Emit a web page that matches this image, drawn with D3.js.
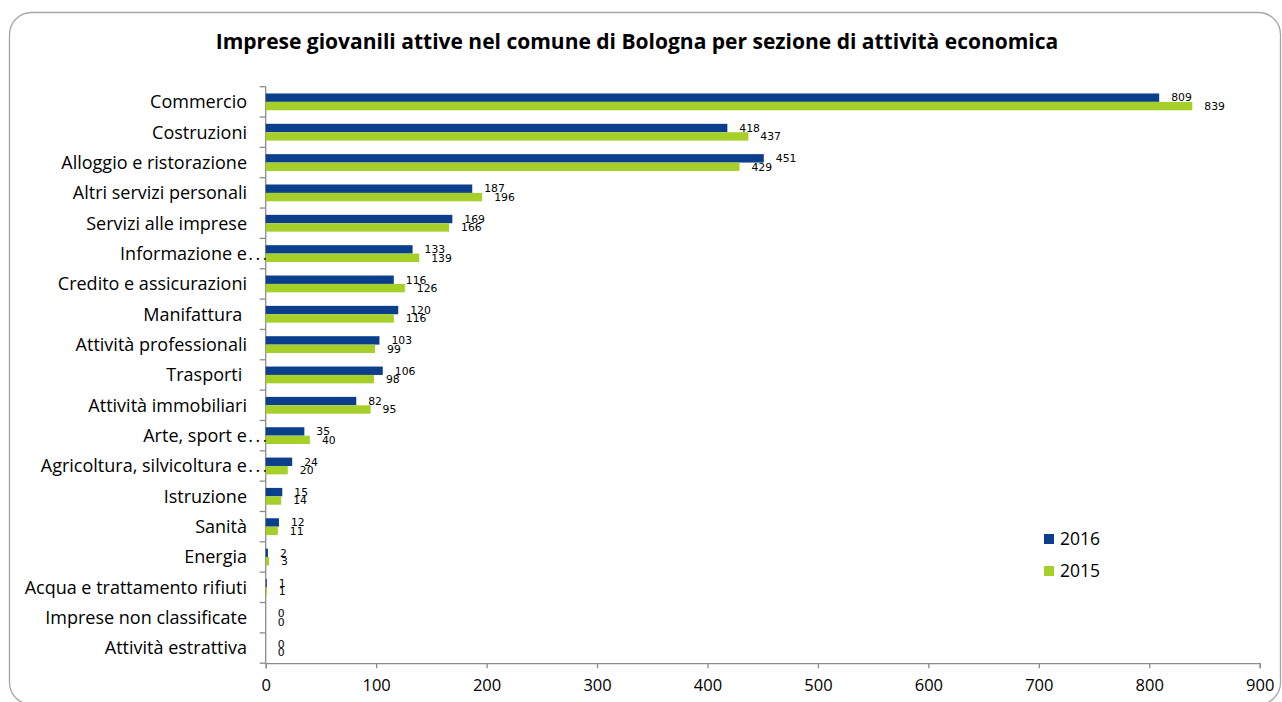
<!DOCTYPE html>
<html>
<head>
<meta charset="utf-8">
<script src="https://cdn.jsdelivr.net/npm/d3@7/dist/d3.min.js"></script>
<style>
  html, body { margin: 0; padding: 0; background: #fff; }
  svg text { white-space: pre; }
</style>
</head>
<body>
<svg id="chart" width="1282" height="702"></svg>
<script>
// Sezioni di attività economica (ordine come nel grafico, dall'alto)
const categories = [
  "Commercio",
  "Costruzioni",
  "Alloggio e ristorazione",
  "Altri servizi personali",
  "Servizi alle imprese",
  "Informazione e…",
  "Credito e assicurazioni",
  "Manifattura ",
  "Attività professionali",
  "Trasporti ",
  "Attività immobiliari",
  "Arte, sport e…",
  "Agricoltura, silvicoltura e…",
  "Istruzione",
  "Sanità",
  "Energia",
  "Acqua e trattamento rifiuti",
  "Imprese non classificate",
  "Attività estrattiva"
];
const values2016 = [809, 418, 451, 187, 169, 133, 116, 120, 103, 106, 82, 35, 24, 15, 12, 2, 1, 0, 0];
const values2015 = [839, 437, 429, 196, 166, 139, 126, 116, 99, 98, 95, 40, 20, 14, 11, 3, 1, 0, 0];
const seriesNames = ["2016", "2015"];
const xTicks = [0, 100, 200, 300, 400, 500, 600, 700, 800, 900];

const colors = { "2016": "#0b3f8c", "2015": "#a6cf2a" };
const title = "Imprese giovanili attive nel comune di Bologna per sezione di attività economica";
const font = "'Open Sans', sans-serif";

const svg = d3.select("#chart");

// cornice arrotondata
svg.append("rect")
  .attr("x", 9.5).attr("y", 12.5)
  .attr("width", 1271).attr("height", 692)
  .attr("rx", 22).attr("ry", 22)
  .attr("fill", "#fff")
  .attr("stroke", "#a6a6a6")
  .attr("stroke-width", 1.3);

svg.append("text")
  .attr("x", 637).attr("y", 49)
  .attr("text-anchor", "middle")
  .attr("font-family", font)
  .attr("font-weight", "bold")
  .attr("font-size", 21)
  .attr("fill", "#000")
  .text(title);

const x = d3.scaleLinear().domain([0, 900]).range([265.7, 1259.7]);
const y = d3.scaleBand().domain(categories).range([86.7, 663.2]).padding(0);
const barH = 8.4;

const rows = categories.map((c, i) => ({ cat: c, v: [values2016[i], values2015[i]] }));

// asse X
const xAxis = svg.append("g")
  .attr("transform", "translate(0,663.2)")
  .call(d3.axisBottom(x).tickValues(xTicks).tickSize(5).tickPadding(11).tickFormat(d3.format("d")));
xAxis.select(".domain").attr("stroke", "#8c8c8c").attr("stroke-width", 1.3);
xAxis.selectAll(".tick line").attr("stroke", "#8c8c8c").attr("stroke-width", 1.3);
xAxis.selectAll(".tick text")
  .attr("font-family", font)
  .attr("font-size", 16.5)
  .attr("fill", "#000");

// asse Y: linea e tacche ai bordi delle categorie
const yLine = svg.append("g");
yLine.append("line")
  .attr("x1", x(0)).attr("x2", x(0))
  .attr("y1", y.range()[0]).attr("y2", y.range()[1])
  .attr("stroke", "#8c8c8c").attr("stroke-width", 1.3);
const bounds = categories.map(c => y(c)).concat([y.range()[1]]);
yLine.selectAll("line.tk").data(bounds).join("line")
  .attr("class", "tk")
  .attr("x1", x(0) - 6).attr("x2", x(0))
  .attr("y1", d => d).attr("y2", d => d)
  .attr("stroke", "#8c8c8c").attr("stroke-width", 1.3);

// etichette categorie (le etichette troncate hanno i puntini spaziati fino all'asse)
const catLabels = svg.append("g").selectAll("text").data(categories).join("text")
  .attr("x", d => d.endsWith("…") ? 270 : 247)
  .attr("y", d => y(d) + y.bandwidth() / 2)
  .attr("dy", "0.35em")
  .attr("text-anchor", "end")
  .attr("font-family", font)
  .attr("font-size", 18)
  .attr("fill", "#000");
catLabels.each(function(d) {
  const t = d3.select(this);
  if (d.endsWith("…")) {
    t.append("tspan").text(d.slice(0, -1));
    t.append("tspan").attr("dx", 1.5).attr("letter-spacing", 2.5).text("...");
  } else {
    t.text(d);
  }
});

// barre
const groups = svg.append("g").selectAll("g").data(rows).join("g");
seriesNames.forEach((s, si) => {
  groups.append("rect")
    .attr("x", x(0))
    .attr("y", d => y(d.cat) + y.bandwidth() / 2 - barH + si * barH)
    .attr("width", d => x(d.v[si]) - x(0))
    .attr("height", barH)
    .attr("fill", colors[s]);
  groups.append("text")
    .attr("x", d => x(d.v[si]) + 12)
    .attr("y", d => y(d.cat) + y.bandwidth() / 2 - barH / 2 + si * barH)
    .attr("dy", "0.35em")
    .attr("font-family", "'DejaVu Sans', sans-serif")
    .attr("font-size", 10.8)
    .attr("fill", "#000")
    .text(d => d.v[si]);
});

// legenda
const legend = svg.append("g").attr("transform", "translate(1044,534)");
seriesNames.forEach((s, i) => {
  legend.append("rect")
    .attr("x", 0).attr("y", i * 32)
    .attr("width", 10).attr("height", 10)
    .attr("fill", colors[s]);
  legend.append("text")
    .attr("x", 16).attr("y", i * 32 + 5)
    .attr("dy", "0.35em")
    .attr("font-family", font)
    .attr("font-size", 17.5)
    .attr("fill", "#000")
    .text(s);
});
</script>
</body>
</html>
